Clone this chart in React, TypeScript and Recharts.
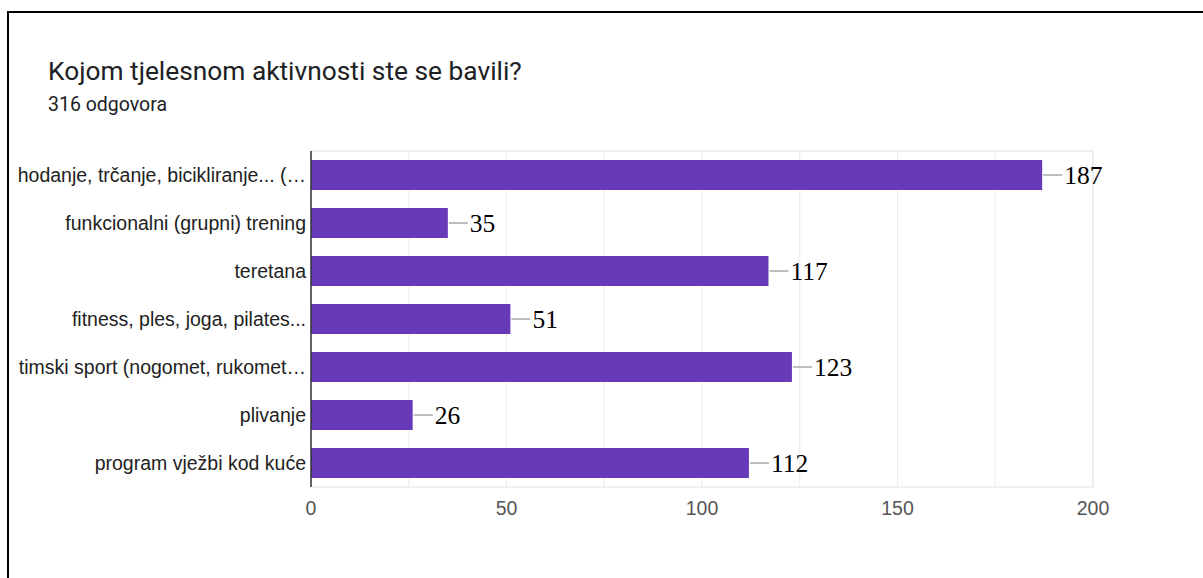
import React from "react";
import { BarChart, Bar, XAxis, YAxis, CartesianGrid, LabelList, ReferenceArea } from "recharts";

const categories = [
  "hodanje, trčanje, bicikliranje... (…",
  "funkcionalni (grupni) trening",
  "teretana",
  "fitness, ples, joga, pilates...",
  "timski sport (nogomet, rukomet…",
  "plivanje",
  "program vježbi kod kuće",
];
const values = [187, 35, 117, 51, 123, 26, 112];
const gridTicks = [0, 25, 50, 75, 100, 125, 150, 175, 200];
const labeledTicks = [0, 50, 100, 150, 200];

const data = categories.map((name, i) => ({ name, value: values[i] }));

const XTick = (props: any) => {
  const { x, y, payload } = props;
  if (!labeledTicks.includes(payload.value)) return <g />;
  return (
    <text x={x} y={y} dy="0.71em" textAnchor="middle" fill="#555" fontSize={19.5} fontFamily="Arial, 'Liberation Sans', sans-serif">
      {payload.value}
    </text>
  );
};

const ValueLabel = (props: any) => {
  const { x, y, width, height, value } = props;
  const xe = x + width;
  const cy = y + height / 2;
  return (
    <g>
      <line x1={xe + 1} x2={xe + 20} y1={cy} y2={cy} stroke="#a8a8a8" strokeWidth={1.5} />
      <text x={xe + 22} y={cy} dy="0.35em" fill="#000" fontSize={25.5} fontFamily="'Liberation Serif', 'Times New Roman', serif">
        {value}
      </text>
    </g>
  );
};

export default function App() {
  return (
    <div style={{ position: "absolute", left: 0, top: 0, width: 1203, height: 578, background: "#fff", overflow: "hidden" }}>
      <div style={{ position: "absolute", left: 7, top: 11, width: 1210, height: 600, borderLeft: "2px solid #000", borderTop: "2px solid #000" }} />
      <div style={{ position: "absolute", left: 48, top: 55, fontFamily: "Roboto, 'Open Sans', sans-serif", fontSize: 26.3, color: "#202124", whiteSpace: "nowrap", lineHeight: "32px" }}>
        Kojom tjelesnom aktivnosti ste se bavili?
      </div>
      <div style={{ position: "absolute", left: 48, top: 93, fontFamily: "Roboto, Arial, sans-serif", fontSize: 19.5, color: "#202124", whiteSpace: "nowrap", lineHeight: "24px" }}>
        316 odgovora
      </div>
      <div style={{ position: "absolute", left: 0, top: 0 }}>
        <BarChart
          width={1203}
          height={578}
          data={data}
          layout="vertical"
          margin={{ top: 151, right: 110, bottom: 61, left: 0 }}
        >
          <CartesianGrid horizontal={false} stroke="#ebebeb" />
          <ReferenceArea x1={0} x2={200} fill="none" stroke="#ebebeb" strokeWidth={1.5} ifOverflow="extendDomain" />
          <XAxis
            type="number"
            dataKey="value"
            domain={[0, 200]}
            ticks={gridTicks}
            interval={0}
            tickLine={false}
            axisLine={false}
            tickSize={0}
            tickMargin={14}
            height={30}
            tick={<XTick />}
          />
          <YAxis
            type="category"
            dataKey="name"
            width={311}
            tickLine={false}
            tickSize={0}
            tickMargin={5}
            interval={0}
            axisLine={{ stroke: "#333", strokeWidth: 1.5 }}
            tick={{ fontSize: 19.5, fill: "#222", fontFamily: "Arial, 'Liberation Sans', sans-serif" }}
          />
          <Bar dataKey="value" fill="#673ab7" barSize={30} isAnimationActive={false}>
            <LabelList dataKey="value" content={<ValueLabel />} />
          </Bar>
        </BarChart>
      </div>
    </div>
  );
}
